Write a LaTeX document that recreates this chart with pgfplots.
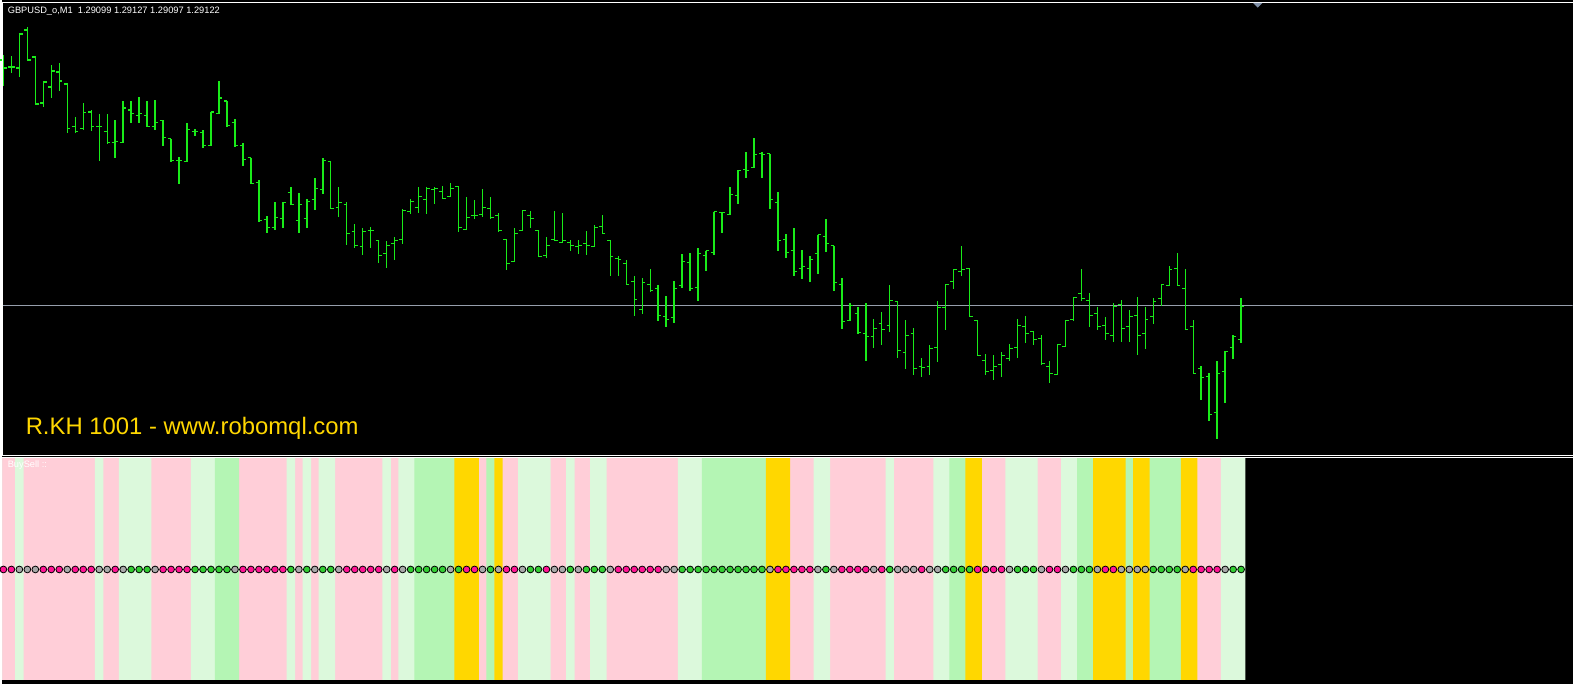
\documentclass[border=0pt]{standalone}
\usepackage{pgfplots}
\pgfplotsset{compat=1.18}
\usepackage{pgfplotstable}
\usepackage{fontspec}
\setmainfont{Liberation Sans}
\definecolor{barg}{RGB}{25,235,25}
\definecolor{pinkb}{RGB}{255,206,216}
\definecolor{lgb}{RGB}{220,249,220}
\definecolor{gb}{RGB}{180,245,180}
\definecolor{goldb}{RGB}{255,215,0}
\definecolor{dotm}{RGB}{255,20,147}
\definecolor{dotg}{RGB}{50,205,50}
\definecolor{dota}{RGB}{169,169,169}
\definecolor{bidc}{RGB}{150,158,172}
\definecolor{trig}{RGB}{128,144,168}
\definecolor{seamc}{RGB}{230,228,222}
\pgfdeclareplotmark{otick}{\pgfpathmoveto{\pgfpoint{-1.6bp}{0pt}}\pgfpathlineto{\pgfpoint{0.2bp}{0pt}}\pgfusepathqstroke}
\pgfdeclareplotmark{ctick}{\pgfpathmoveto{\pgfpoint{-0.2bp}{0pt}}\pgfpathlineto{\pgfpoint{1.6bp}{0pt}}\pgfusepathqstroke}

% OHLC in screen units (y grows downward)
\pgfplotstableread{
k o h l c
0 60 55 86 68
1 67 56 73 67
2 68 33 77 34
3 30 27 61 60
4 57 57 104 104
5 103 81 107 82
6 87 65 98 71
7 72 63 91 81
8 84 84 133 129
9 127 117 133 132
10 129 103 130 113
11 112 110 131 127
12 127 114 161 127
13 132 114 144 143
14 143 120 158 142
15 143 101 143 108
16 110 101 123 114
17 116 97 123 114
18 116 101 127 127
19 127 100 130 123
20 121 120 146 138
21 139 139 162 161
22 161 157 184 161
23 162 123 162 130
24 132 129 136 132
25 133 130 148 146
26 146 112 146 112
27 114 81 114 98
28 101 101 127 126
29 123 119 147 146
30 146 143 166 160
31 158 158 184 184
32 183 180 222 221
33 220 216 233 228
34 228 202 230 218
35 219 203 228 203
36 193 187 205 205
37 221 193 233 205
38 219 199 228 202
39 200 178 210 189
40 190 158 194 161
41 162 162 209 209
42 208 187 217 203
43 205 202 245 234
44 232 224 248 246
45 247 228 255 232
46 231 227 248 231
47 241 241 263 256
48 254 241 268 246
49 244 237 260 241
50 240 209 244 211
51 212 199 214 202
52 208 187 213 197
53 200 187 214 189
54 190 187 204 189
55 192 186 199 199
56 197 183 197 189
57 187 187 232 228
58 230 197 230 218
59 216 200 219 216
60 215 189 217 208
61 209 197 219 218
62 216 213 232 231
63 240 240 270 264
64 262 228 262 234
65 231 211 231 211
66 216 211 228 219
67 231 231 257 257
68 256 237 258 246
69 240 211 241 241
70 243 213 243 241
71 243 240 251 246
72 247 240 254 246
73 244 231 255 246
74 247 225 247 228
75 227 215 234 234
76 241 240 277 257
77 259 256 276 260
78 264 260 286 285
79 282 276 317 300
80 310 279 315 283
81 285 269 293 291
82 289 286 322 316
83 317 297 328 320
84 318 282 324 289
85 286 254 289 262
86 263 253 292 289
87 288 248 302 254
88 256 251 271 251
89 253 212 255 212
90 213 212 233 213
91 215 187 215 195
92 196 170 204 171
93 170 152 178 171
94 168 138 168 155
95 154 152 178 155
96 154 154 209 200
97 203 192 251 241
98 240 234 258 253
99 251 228 276 272
100 269 250 280 267
101 269 256 283 260
102 254 235 274 235
103 237 219 252 244
104 246 246 292 283
105 285 279 330 322
106 321 304 322 306
107 314 308 335 333
108 334 304 362 337
109 337 320 349 329
110 324 313 346 330
111 326 286 333 301
112 302 302 359 351
113 353 321 370 336
114 334 329 376 369
115 367 359 378 368
116 367 346 376 349
117 348 302 363 308
118 308 285 331 285
119 282 269 290 270
120 272 246 276 270
121 269 269 317 317
122 321 321 356 356
123 361 355 376 372
124 371 356 381 367
125 365 353 378 356
126 359 345 362 349
127 348 320 359 326
128 327 317 344 334
129 332 332 346 340
130 339 336 366 364
131 367 362 384 374
132 375 345 376 345
133 347 321 347 321
134 320 298 322 298
135 294 269 302 299
136 301 294 328 316
137 314 308 331 327
138 326 318 341 334
139 336 304 343 307
140 305 301 343 329
141 327 311 343 317
142 316 298 356 336
143 334 308 350 320
144 317 299 325 302
145 299 285 307 285
146 286 266 286 270
147 269 253 286 286
148 289 269 330 330
149 327 321 375 374
150 369 367 401 378
151 377 374 422 415
152 413 362 440 374
153 372 352 404 352
154 348 336 360 337
155 340 299 344 307
}\ohlc

\begin{document}
\begin{tikzpicture}
\fill[black] (0,0) rectangle (786.5bp,-342.5bp);
% light underlay of the band strip, so that joins between bands do not show black
\fill[seamc] (0,-229.5bp) rectangle (622.5bp,-340.5bp);

\begin{axis}[at={(0bp,-1bp)}, anchor=north west, scale only axis,
  width=786.5bp, height=227bp, xmin=-0.125, xmax=196.5, ymin=2, ymax=456,
  y dir=reverse, hide axis, clip=true]
  \addplot[bidc, line width=0.5bp, forget plot] coordinates {(-1,306.5) (200,306.5)};
  \addplot[draw=none, mark=none, forget plot,
    error bars/.cd, y dir=both, y explicit, error mark=none,
    error bar style={draw=barg, line width=0.7bp}]
    table[x=k, y expr={(\thisrow{h}+\thisrow{l})/2}, y error expr={(\thisrow{l}-\thisrow{h})/2}] \ohlc;
  \addplot[barg, only marks, mark=otick, mark options={draw=barg, line width=0.7bp}, forget plot]
    table[x=k, y=o] \ohlc;
  \addplot[barg, only marks, mark=ctick, mark options={draw=barg, line width=0.7bp}, forget plot]
    table[x=k, y=c] \ohlc;
\end{axis}

\begin{axis}[at={(0bp,-229.5bp)}, anchor=north west, scale only axis,
  width=786.5bp, height=113bp, xmin=-0.125, xmax=196.5, ymin=459, ymax=685,
  y dir=reverse, hide axis, clip=true]
  % background bands
  \addplot[ybar, bar width=1.06, bar shift=0pt, fill=pinkb, draw=none, forget plot]
    table[row sep=\\, x=k, y expr=681] {k\\0\\1\\3\\4\\5\\6\\7\\8\\9\\10\\11\\13\\14\\19\\20\\21\\22\\23\\30\\31\\32\\33\\34\\35\\37\\39\\42\\43\\44\\45\\46\\47\\49\\60\\63\\64\\69\\70\\72\\73\\76\\77\\78\\79\\80\\81\\82\\83\\84\\99\\100\\101\\104\\105\\106\\107\\108\\109\\110\\112\\113\\114\\115\\116\\123\\124\\125\\130\\131\\132\\150\\151\\152\\};
  \addplot[ybar, bar width=1.06, bar shift=0pt, fill=lgb, draw=none, forget plot]
    table[row sep=\\, x=k, y expr=681] {k\\2\\12\\15\\16\\17\\18\\24\\25\\26\\36\\38\\40\\41\\48\\50\\51\\65\\66\\67\\68\\71\\74\\75\\85\\86\\87\\102\\103\\111\\117\\118\\126\\127\\128\\129\\133\\134\\153\\154\\155\\};
  \addplot[ybar, bar width=1.06, bar shift=0pt, fill=gb, draw=none, forget plot]
    table[row sep=\\, x=k, y expr=681] {k\\27\\28\\29\\52\\53\\54\\55\\56\\61\\88\\89\\90\\91\\92\\93\\94\\95\\119\\120\\135\\136\\141\\144\\145\\146\\147\\};
  \addplot[ybar, bar width=1.06, bar shift=0pt, fill=goldb, draw=none, forget plot]
    table[row sep=\\, x=k, y expr=681] {k\\57\\58\\59\\62\\96\\97\\98\\121\\122\\137\\138\\139\\140\\142\\143\\148\\149\\};
  % signal dots
  \addplot[only marks, mark=*, mark size=1.7bp, mark options={draw=none, fill=dotm}, forget plot]
    table[row sep=\\, x=k, y expr=570.5] {k\\0\\1\\5\\6\\7\\9\\10\\11\\14\\20\\21\\22\\23\\30\\31\\32\\33\\34\\35\\43\\44\\45\\46\\47\\49\\58\\59\\63\\64\\68\\77\\78\\79\\80\\81\\82\\97\\98\\99\\100\\101\\105\\106\\107\\108\\110\\115\\122\\123\\124\\125\\131\\132\\138\\139\\149\\150\\151\\152\\};
  \addplot[only marks, mark=*, mark size=1.7bp, mark options={draw=none, fill=dotg}, forget plot]
    table[row sep=\\, x=k, y expr=570.5] {k\\16\\17\\18\\24\\25\\26\\27\\28\\36\\38\\40\\41\\51\\52\\53\\54\\55\\57\\61\\66\\67\\71\\73\\74\\75\\85\\86\\87\\88\\89\\90\\91\\92\\93\\94\\95\\103\\111\\118\\119\\120\\121\\127\\128\\129\\134\\135\\136\\144\\145\\146\\147\\154\\155\\};
  \addplot[only marks, mark=*, mark size=1.7bp, mark options={draw=none, fill=dota}, forget plot]
    table[row sep=\\, x=k, y expr=570.5] {k\\2\\3\\4\\8\\12\\13\\15\\19\\29\\37\\39\\42\\48\\50\\56\\60\\62\\65\\69\\70\\72\\76\\83\\84\\96\\102\\104\\109\\112\\113\\114\\116\\117\\126\\130\\133\\137\\140\\141\\142\\143\\148\\153\\};
\end{axis}

% panel frames
\draw[white, line width=0.5bp] (0,-1.25bp) -- (786.5bp,-1.25bp);
\draw[white, line width=0.5bp] (0.25bp,-1bp) -- (0.25bp,-228.5bp);
\draw[white, line width=0.5bp] (0,-228.25bp) -- (786.5bp,-228.25bp);
\draw[white, line width=0.5bp] (0,-229.25bp) -- (786.5bp,-229.25bp);
\fill[trig] (626.5bp,-1.5bp) -- (631.2bp,-1.5bp) -- (628.85bp,-3.8bp) -- cycle;

% texts
\node[anchor=base west, inner sep=0pt, text=white, font=\fontsize{4.65bp}{5bp}\selectfont]
  at (2.5bp,-6.7bp) {GBPUSD\_o,M1\ \ 1.29099 1.29127 1.29097 1.29122};
\node[anchor=base west, inner sep=0pt, text=goldb, font=\fontsize{11.95bp}{13bp}\selectfont]
  at (11.5bp,-217.5bp) {R.KH 1001 - www.robomql.com};
\node[anchor=base west, inner sep=0pt, text=white, font=\fontsize{4.65bp}{5bp}\selectfont]
  at (2.5bp,-234.3bp) {BuySell ::};
\end{tikzpicture}
\end{document}
